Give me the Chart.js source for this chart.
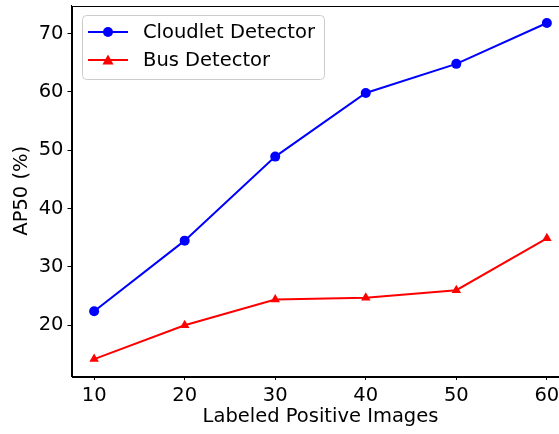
<!DOCTYPE html>
<html>
<head>
<meta charset="utf-8">
<script src="https://cdn.jsdelivr.net/npm/chart.js@4"></script>
<style>
  html, body { margin: 0; padding: 0; background: #fff; overflow: hidden; }
  #wrap { width: 575px; height: 434px; }
</style>
</head>
<body>
<div id="wrap"><canvas id="chart"></canvas></div>
<script>
const labeledImages = [10, 20, 30, 40, 50, 60];
const cloudletAP = [22.4, 34.5, 48.9, 59.8, 64.8, 71.8];
const busAP = [14.2, 20.0, 24.4, 24.7, 26.0, 34.9];
const xTicks = [10, 20, 30, 40, 50, 60];
const yTicks = [20, 30, 40, 50, 60, 70];

const font = "DejaVu Sans";
const fontSize = 19.5;

// frame around plot area + legend box in upper left
const framePlugin = {
    id: "frame",
    afterDraw(chart) {
        const c = chart.ctx;
        const a = chart.chartArea;
        c.save();
        c.strokeStyle = "#000";
        c.lineWidth = 1;
        c.strokeRect(Math.round(a.left) + 0.5, Math.round(a.top) + 0.5,
            Math.round(a.right - a.left), Math.round(a.bottom - a.top));

        // legend
        c.beginPath();
        c.roundRect(82.5, 15.5, 242, 64, 4);
        c.fillStyle = "rgba(255,255,255,0.8)";
        c.fill();
        c.strokeStyle = "#cccccc";
        c.stroke();

        const items = [
            { label: "Cloudlet Detector", color: "#0000ff", style: "circle", y: 32 },
            { label: "Bus Detector", color: "#ff0000", style: "triangle", y: 60 },
        ];
        items.forEach(function (it) {
            c.strokeStyle = it.color;
            c.lineWidth = 2;
            c.beginPath();
            c.moveTo(88, it.y);
            c.lineTo(128, it.y);
            c.stroke();
            c.fillStyle = it.color;
            c.beginPath();
            if (it.style === "circle") {
                c.arc(108, it.y, 5, 0, Math.PI * 2);
            } else {
                c.moveTo(108, it.y - 5.5);
                c.lineTo(113.5, it.y + 4.5);
                c.lineTo(102.5, it.y + 4.5);
                c.closePath();
            }
            c.fill();
            c.fillStyle = "#000";
            c.font = fontSize + "px " + font;
            c.textBaseline = "middle";
            c.fillText(it.label, 143, it.y + 1);
        });
        c.restore();
    },
};

const ctx = document.getElementById("chart");
new Chart(ctx, {
    type: "line",
    data: {
        datasets: [
            {
                label: "Cloudlet Detector",
                data: labeledImages.map((x, i) => ({ x: x, y: cloudletAP[i] })),
                borderColor: "#0000ff",
                backgroundColor: "#0000ff",
                borderWidth: 2,
                pointStyle: "circle",
                pointRadius: 5,
                pointBorderWidth: 0,
            },
            {
                label: "Bus Detector",
                data: labeledImages.map((x, i) => ({ x: x, y: busAP[i] })),
                borderColor: "#ff0000",
                backgroundColor: "#ff0000",
                borderWidth: 2,
                pointStyle: "triangle",
                pointRadius: 5.5,
                pointBorderWidth: 0,
            },
        ],
    },
    options: {
        responsive: true,
        maintainAspectRatio: false,
        animation: false,
        layout: {
            padding: { top: 5, right: 2, left: 0, bottom: 0 },
        },
        scales: {
            x: {
                type: "linear",
                min: 7.5,
                max: 62.5,
                afterBuildTicks: (s) => { s.ticks = xTicks.map((v) => ({ value: v })); },
                afterFit: (s) => {
                    s.height = 58;
                    s.paddingLeft = 0;
                    s.paddingRight = 0;
                },
                grid: { drawOnChartArea: false, drawTicks: true, tickLength: 4, color: "#000" },
                border: { display: true, color: "#000", width: 1 },
                ticks: { color: "#000", font: { family: font, size: fontSize }, padding: 4, maxRotation: 0 },
                title: {
                    display: true,
                    text: "Labeled Positive Images",
                    color: "#000",
                    font: { family: font, size: fontSize },
                    padding: { top: 0, bottom: 5 },
                },
            },
            y: {
                min: 11.3,
                max: 74.8,
                afterBuildTicks: (s) => { s.ticks = yTicks.map((v) => ({ value: v })); },
                afterFit: (s) => {
                    s.width = 71.5;
                    s.paddingTop = 0;
                    s.paddingBottom = 0;
                },
                grid: { drawOnChartArea: false, drawTicks: true, tickLength: 4, color: "#000" },
                border: { display: true, color: "#000", width: 1 },
                ticks: { color: "#000", font: { family: font, size: fontSize }, padding: 4 },
                title: {
                    display: true,
                    text: "AP50 (%)",
                    color: "#000",
                    font: { family: font, size: fontSize },
                    padding: { top: 10, bottom: 0 },
                },
            },
        },
        plugins: {
            legend: { display: false },
            tooltip: { enabled: false },
        },
    },
    plugins: [framePlugin],
});
</script>
</body>
</html>
